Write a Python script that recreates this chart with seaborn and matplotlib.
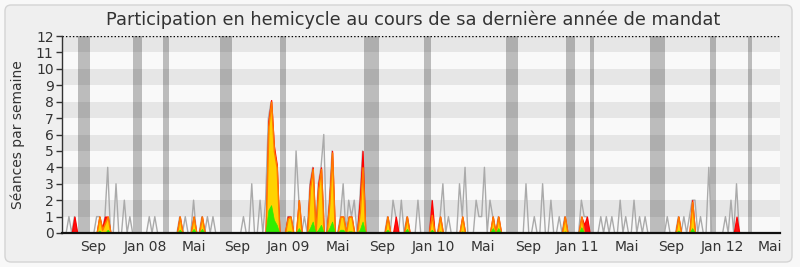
import matplotlib
matplotlib.use("Agg")
import matplotlib.pyplot as plt
import seaborn as sns
import numpy as np
import pandas as pd
from matplotlib.patches import FancyBboxPatch

# ---------------- data (weekly, week 0 = mid-June 2007) ----------------
N_WEEKS = 259

# grey line: séances in the hemicycle per week
total_weeks = [2, 4, 12, 13, 15, 16, 19, 22, 24, 31, 33, 42, 44, 47, 50, 52, 54,
               65, 68, 71, 73, 74, 75, 76, 77, 81, 82, 84, 85, 87, 89, 90, 92, 93, 94,
               96, 97, 100, 101, 103, 104, 105, 107, 108, 117, 119, 120, 122, 124, 128,
               133, 136, 137, 139, 143, 144, 145, 149, 150, 151, 152, 154, 155, 157,
               167, 170, 173, 176, 179, 181, 187, 188, 189, 194, 196, 198, 201, 203,
               206, 208, 210, 218, 222, 224, 226, 227, 228, 230, 233, 239, 241, 243]
total_vals = [1, 1, 1, 1, 1, 4, 3, 2, 1, 1, 1, 1, 1, 2, 1, 1, 1,
              1, 3, 2, 2, 7, 8, 5, 4, 1, 1, 5, 2, 1, 3, 4, 3, 4, 6,
              2, 5, 1, 3, 2, 1, 2, 2, 5, 1, 2, 1, 2, 1, 2,
              2, 1, 3, 1, 3, 1, 4, 2, 1, 1, 4, 2, 1, 1,
              3, 1, 3, 2, 1, 1, 2, 1, 1, 1, 1, 1, 2, 1,
              2, 1, 1, 1, 1, 1, 1, 2, 2, 1, 4, 1, 2, 3]

# red area: présences
presence_weeks = [4, 13, 14, 15, 16, 42, 47, 50, 74, 75, 76, 77, 81, 82, 85, 89, 90,
                  92, 93, 96, 97, 100, 101, 103, 104, 107, 108, 117, 120, 124, 133,
                  136, 144, 155, 157, 181, 187, 188, 189, 222, 227, 243]
presence_vals = [1, 1, 0.3, 1, 1, 1, 1, 1, 6.8, 8.1, 5.3, 4.2, 1, 1, 2, 3, 4,
                 3, 4, 2, 5, 1, 1, 1, 1, 2, 5, 1, 1, 1, 2,
                 1, 1, 1, 1, 1, 1, 0.5, 1, 1, 2, 1]

# yellow area (orange edge): participations
particip_weeks = [13, 14, 15, 16, 42, 47, 50, 74, 75, 76, 77, 81, 82, 85, 89, 90,
                  92, 93, 96, 97, 100, 101, 103, 104, 107, 108, 117, 124, 133,
                  136, 144, 155, 157, 181, 187, 222, 227]
particip_vals = [1, 0.2, 0.6, 1, 1, 1, 1, 6.5, 8, 5, 4, 0.9, 1, 2, 2.7, 3.9,
                 2.7, 3.9, 1.8, 4.9, 1, 1, 1, 1, 1.3, 4, 1, 1, 1.1,
                 1, 1, 1, 1, 1, 1, 1, 1.9]

# green area: interventions
interv_weeks = [13, 16, 42, 47, 50, 74, 75, 76, 77, 81, 82, 85, 89, 90, 92, 93, 96,
                97, 100, 101, 103, 104, 107, 108, 117, 124, 133, 136, 144, 155, 157,
                181, 187, 222, 227]
interv_vals = [0.15, 0.2, 0.2, 0.25, 0.25, 1.4, 1.7, 0.8, 0.5, 0.1, 0.1, 0.3, 0.3, 0.7,
               0.2, 0.5, 0.3, 0.7, 0.2, 0.2, 0.1, 0.1, 0.2, 0.7, 0.2, 0.25, 0.2, 0.1,
               0.1, 0.3, 0.3, 0.1, 0.35, 0.15, 0.3]

# parliamentary recess (grey vertical bands), in weeks
vac_start = [5.3, 25.1, 36.0, 56.5, 78.2, 108.5, 130.2, 159.8, 181.5, 190.1, 211.8, 233.4, 247.1]
vac_end = [9.6, 28.4, 38.1, 60.9, 80.4, 113.9, 132.7, 164.1, 184.7, 191.5, 217.2, 235.6, 248.6]

tick_weeks = [10.7, 29.5, 47.1, 62.7, 81.1, 99.1, 115.0, 133.4, 151.5, 167.7,
              185.4, 203.4, 219.3, 237.8, 255.1]
tick_labels = ["Sep", "Jan 08", "Mai", "Sep", "Jan 09", "Mai", "Sep", "Jan 10",
               "Mai", "Sep", "Jan 11", "Mai", "Sep", "Jan 12", "Mai"]

title = "Participation en hemicycle au cours de sa dernière année de mandat"
ylabel = "Séances par semaine"


def dense(weeks, vals):
    arr = np.zeros(N_WEEKS)
    arr[np.array(weeks)] = vals
    return arr


df = pd.DataFrame({
    "semaine": np.arange(N_WEEKS),
    "seances": dense(total_weeks, total_vals),
    "presence": dense(presence_weeks, presence_vals),
    "participation": dense(particip_weeks, particip_vals),
    "intervention": dense(interv_weeks, interv_vals),
})

# ---------------- style ----------------
sns.set_theme(style="white")
plt.rcParams["font.family"] = ["DejaVu Sans"]

fig = plt.figure(figsize=(8, 2.67), dpi=100)
fig.patch.set_facecolor("#f8f8f8")
frame = FancyBboxPatch((5, 5), 787, 257, boxstyle="round,pad=0,rounding_size=6",
                       transform=None, facecolor="#efefef", edgecolor="#d4d4d4",
                       linewidth=1, zorder=-10)
fig.patches.append(frame)

ax = fig.add_axes([62 / 800, 1 - 233 / 267, 718 / 800, 197 / 267])
ax.set_zorder(5)
ax.set_facecolor("#f9f9f9")

for k in range(1, 12, 2):
    ax.axhspan(k, k + 1, color="#e6e6e6", lw=0, zorder=0)
for s, e in zip(vac_start, vac_end):
    ax.axvspan(s, e, color="black", alpha=0.245, lw=0, zorder=1)

sns.lineplot(data=df, x="semaine", y="seances", ax=ax, color="#aaaaaa",
             lw=1.0, zorder=2, legend=False)
ax.fill_between(df["semaine"], df["presence"], facecolor="#ff1010",
                edgecolor="#ff0000", lw=0.9, zorder=3)
ax.fill_between(df["semaine"], df["participation"], facecolor="#ffd200",
                edgecolor="#ff7a00", lw=1.1, zorder=4)
ax.fill_between(df["semaine"], df["intervention"], facecolor="#33ee00",
                edgecolor="#33ee00", lw=0.5, zorder=5)

ax.axhline(12, ls=(0, (1, 1.5)), color="black", lw=1, zorder=6)

ax.set_xlim(-0.5, 258.7)
ax.set_ylim(0, 12)
ax.set_yticks(range(0, 13))
ax.set_xticks(tick_weeks)
ax.set_xticklabels(tick_labels)
ax.set_xlabel("")
ax.set_ylabel("")
ax.tick_params(axis="y", length=4, width=1, color="#333333", labelsize=10,
               labelcolor="#333333", pad=2, left=True)
ax.tick_params(axis="x", length=0, labelsize=10, labelcolor="#333333", pad=5)

for side in ["top", "right"]:
    ax.spines[side].set_visible(False)
ax.spines["left"].set_color("#333333")
ax.spines["left"].set_linewidth(1)
ax.spines["bottom"].set_color("#111111")
ax.spines["bottom"].set_linewidth(1.6)
ax.spines["left"].set_zorder(7)
ax.spines["bottom"].set_zorder(7)

fig.text(413 / 800, 1 - 20 / 267, title, ha="center", va="center",
         fontsize=12.8, color="#333333")
fig.text(18 / 800, 0.496, ylabel, ha="center", va="center", rotation=90,
         fontsize=10, color="#333333")

fig.savefig("out.png", dpi=100, facecolor=fig.get_facecolor())
